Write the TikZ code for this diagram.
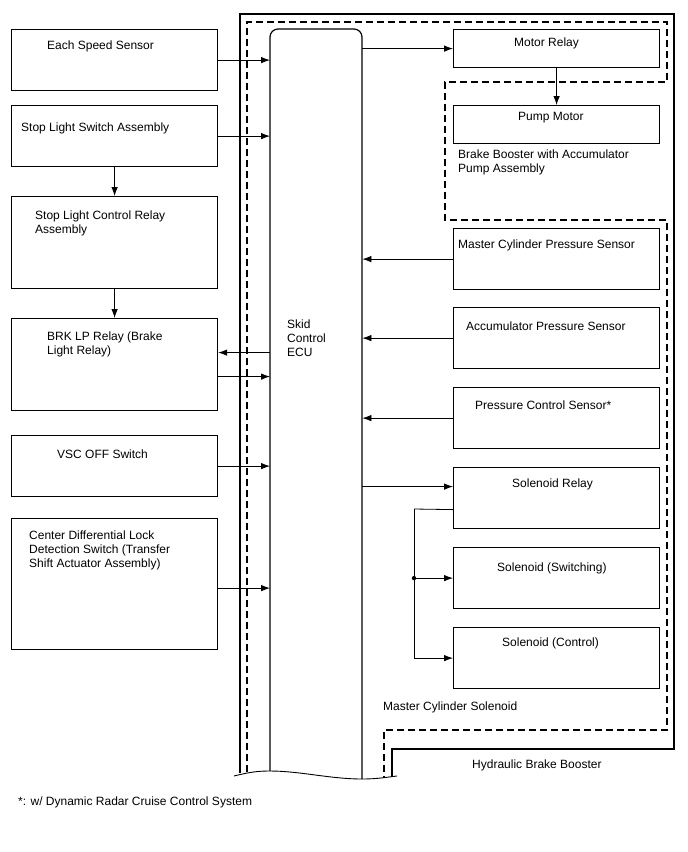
\documentclass[tikz,border=0pt]{standalone}
\usepackage{fontspec}
\setmainfont{Liberation Sans}
\usetikzlibrary{arrows.meta}
\begin{document}
\begin{tikzpicture}[x=1pt,y=-1pt,
  box/.style={draw,line width=1.2pt,minimum width=206,inner sep=0,anchor=north west},
  lbl/.style={inner sep=0,anchor=west,align=left,font=\fontsize{12}{14}\selectfont},
  arr/.style={line width=0.8pt,-{Latex[length=9pt,width=6.5pt]}}]
\useasboundingbox (0,0) rectangle (688,852);
% Hydraulic Brake Booster / Master Cylinder Solenoid
\draw[line width=1.2pt] (240,773) -- (240,14) -- (674,14) -- (674,749) -- (392,749) -- (392,777);
\draw[line width=1.1pt,dash pattern=on 7pt off 4pt] (247,772) -- (247,22) -- (667,22) -- (667,82) -- (445,82)
  -- (445,220) -- (667,220) -- (667,730) -- (384,730) -- (384,777.5);
% Skid Control ECU
\node[minimum width=92,minimum height=742,inner sep=0,anchor=north west] (ecu) at (270,29) {};
\draw[line width=1.2pt,rounded corners=8] (270,771) -- (270,29) -- (362,29) -- (362,779);
\draw[line width=0.9pt] (234,776) .. controls (250,772) and (258,771) .. (270,771)
  .. controls (300,771) and (330,779) .. (362,779) .. controls (378,779) and (388,777) .. (397,776);
\node[lbl] (ecutxt) at (287,338) {Skid\\Control\\ECU};
% left side
\node[box,minimum height=61] (ess) at (11,29) {};
\node[box,minimum height=61] (sls) at (11,105) {};
\node[box,minimum height=92] (slcr) at (11,196) {};
\node[box,minimum height=92] (brk) at (11,318) {};
\node[box,minimum height=61] (vsc) at (11,435) {};
\node[box,minimum height=131] (cdl) at (11,518) {};
\node[lbl] (esstxt) at (47,46) {Each Speed Sensor};
\node[lbl] (slstxt) at (21,128) {Stop Light Switch Assembly};
\node[lbl] (slcrtxt) at (35,223) {Stop Light Control Relay\\Assembly};
\node[lbl] (brktxt) at (47,344.5) {BRK LP Relay (Brake\\Light Relay)};
\node[lbl] (vsctxt) at (57,454) {VSC OFF Switch};
\node[lbl] (cdltxt) at (29,550) {Center Differential Lock\\Detection Switch (Transfer\\Shift Actuator Assembly)};
% right side
\node[box,minimum height=38] (mr) at (453,29) {};
\node[box,minimum height=38] (pm) at (453,105) {};
\node[box,minimum height=61] (mcps) at (453,228) {};
\node[box,minimum height=61] (aps) at (453,307) {};
\node[box,minimum height=61] (pcs) at (453,387) {};
\node[box,minimum height=61] (sr) at (453,467) {};
\node[box,minimum height=61] (sw) at (453,547) {};
\node[box,minimum height=61] (sc) at (453,627) {};
\node[lbl] (mrtxt) at (514,43) {Motor Relay};
\node[lbl] (pmtxt) at (518,118) {Pump Motor};
\node[lbl] (bbtxt) at (458,162) {Brake Booster with Accumulator\\Pump Assembly};
\node[lbl] (mcpstxt) at (458,245) {Master Cylinder Pressure Sensor};
\node[lbl] (apstxt) at (466,326) {Accumulator Pressure Sensor};
\node[lbl] (pcstxt) at (475,405) {Pressure Control Sensor*};
\node[lbl] (srtxt) at (512,484) {Solenoid Relay};
\node[lbl] (swtxt) at (497,568) {Solenoid (Switching)};
\node[lbl] (sctxt) at (502,643) {Solenoid (Control)};
\node[lbl] (mcstxt) at (383,707) {Master Cylinder Solenoid};
\node[lbl] (hbbtxt) at (472,765) {Hydraulic Brake Booster};
\node[lbl] (note) at (18,802) {*: w/ Dynamic Radar Cruise Control System};
% connectors
\foreach \n in {ess,sls,vsc}
  \draw[arr] (\n.east) -- (\n.east -| ecu.west);
\draw[arr] ([yshift=-4pt]cdl.east) -- ([yshift=-4pt]cdl.east -| ecu.west);
\draw[arr] (sls.south) -- (slcr.north);
\draw[arr] (slcr.south) -- (brk.north);
\draw[arr] ([yshift=12pt]ecu.west |- brk.east) -- ([yshift=12pt]brk.east);
\draw[arr] ([yshift=-12pt]brk.east) -- ([yshift=-12pt]ecu.west |- brk.east);
\draw[arr] (ecu.east |- mr.west) -- (mr.west);
\draw[arr] (mr.south) -- (pm.north);
\foreach \n in {mcps,aps,pcs}
  \draw[arr] (\n.west) -- (\n.west -| ecu.east);
\draw[arr] ([yshift=11.5pt]ecu.east |- sr.west) -- ([yshift=11.5pt]sr.west);
\coordinate (bus) at (414,509);
\draw[line width=0.8pt] ([yshift=-11.5pt]sr.west) -- (bus);
\draw[arr] (bus) |- (sc.west);
\draw[arr] (bus |- sw.west) -- (sw.west);
\fill (bus |- sw.west) circle (2.2);
\end{tikzpicture}
\end{document}
